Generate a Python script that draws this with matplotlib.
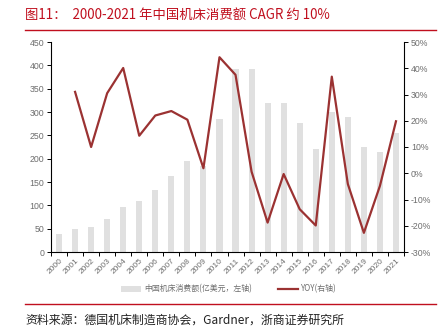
import matplotlib.pyplot as plt
import numpy as np
from matplotlib.ticker import FuncFormatter, FixedLocator

plt.rcParams['font.family'] = ['Liberation Sans', 'Noto Sans CJK SC', 'DejaVu Sans']

# ==============================================================
# Data
# ==============================================================
years = [str(y) for y in range(2000, 2022)]
consumption = [38, 49, 53, 70, 97, 109, 133, 163, 195, 185, 285, 393,
               393, 320, 319, 276, 221, 301, 290, 224, 215, 256]   # 亿美元
yoy_years = years[1:]
yoy = [31.0, 10.0, 30.5, 40.1, 14.3, 22.0, 23.7, 20.4, 1.9, 44.2, 37.5,
       0.6, -18.8, -0.3, -13.7, -19.9, 36.8, -4.1, -22.7, -4.8, 19.8]  # %

TITLE = "图11：  2000-2021 年中国机床消费额 CAGR 约 10%"
SOURCE = "资料来源：德国机床制造商协会，Gardner，浙商证券研究所"
BAR_LABEL = "中国机床消费额(亿美元，左轴)"
LINE_LABEL = "YOY(右轴)"

RED = '#C00F1E'
LINE_RED = '#9B3232'
BAR_GRAY = '#E0E0E0'
TXT_GRAY = '#6E6E6E'
CJK = ['Noto Sans CJK SC', 'DejaVu Sans']

W, H = 444, 335
fig = plt.figure(figsize=(W / 100, H / 100), dpi=100)

# header / footer
fig.text(25 / W, 1 - 15 / H, TITLE, color=RED, fontsize=9.6, va='center', ha='left', family=CJK)
fig.add_artist(plt.Line2D([25 / W, 436 / W], [1 - 30 / H] * 2, color=RED, lw=1.0))
fig.add_artist(plt.Line2D([25 / W, 436 / W], [1 - 304 / H] * 2, color=RED, lw=1.0))
fig.text(25 / W, 1 - 320 / H, SOURCE, color='#222222', fontsize=8.6, va='center', ha='left',
         family=CJK)

# main axes
ax = fig.add_axes([51 / W, 1 - 252 / H, (404 - 51) / W, (252 - 42) / H])
x = np.arange(len(years))
bars = ax.bar(x, consumption, width=0.38, color=BAR_GRAY, zorder=1, label=BAR_LABEL)
ax.set_xlim(-0.5, len(years) - 0.5)
ax.set_ylim(0, 450)
ax.set_yticks(np.arange(0, 451, 50))
ax.set_xticks(x)
ax.set_xticklabels(years, rotation=45, ha='right', rotation_mode='anchor')
ax.xaxis.set_minor_locator(FixedLocator(np.arange(-0.5, len(years), 1)))
ax.tick_params(axis='x', which='major', length=0, pad=4, labelsize=6, labelcolor=TXT_GRAY)
ax.tick_params(axis='x', which='minor', length=3, width=0.7, direction='out')
ax.tick_params(axis='y', length=3, width=0.7, labelsize=6.3, labelcolor=TXT_GRAY, pad=2)
ax.spines['top'].set_visible(False)
ax.spines['right'].set_visible(False)
for s in ['left', 'bottom']:
    ax.spines[s].set_linewidth(0.8)

ax2 = ax.twinx()
ax2.plot(x[1:], yoy, color=LINE_RED, lw=1.6, zorder=3, label=LINE_LABEL)
ax2.set_ylim(-30, 50)
ax2.set_yticks(np.arange(-30, 51, 10))
ax2.yaxis.set_major_formatter(FuncFormatter(lambda v, p: f"{int(v)}%"))
ax2.tick_params(axis='y', length=3, width=0.7, labelsize=6.3, labelcolor=TXT_GRAY, pad=2)
ax2.spines['top'].set_visible(False)
ax2.spines['left'].set_visible(False)
ax2.spines['bottom'].set_visible(False)
ax2.spines['right'].set_linewidth(0.8)

# legend
h1, l1 = ax.get_legend_handles_labels()
h2, l2 = ax2.get_legend_handles_labels()
leg = fig.legend(h1 + h2, l1 + l2, loc='center', bbox_to_anchor=(229 / W, 1 - 289 / H),
                 ncol=2, frameon=False, handlelength=2.6, handleheight=0.7,
                 columnspacing=3.2, handletextpad=0.4,
                 prop={'family': CJK, 'size': 5.7})
for t in leg.get_texts():
    t.set_color(TXT_GRAY)

fig.savefig('out.png', dpi=100)
